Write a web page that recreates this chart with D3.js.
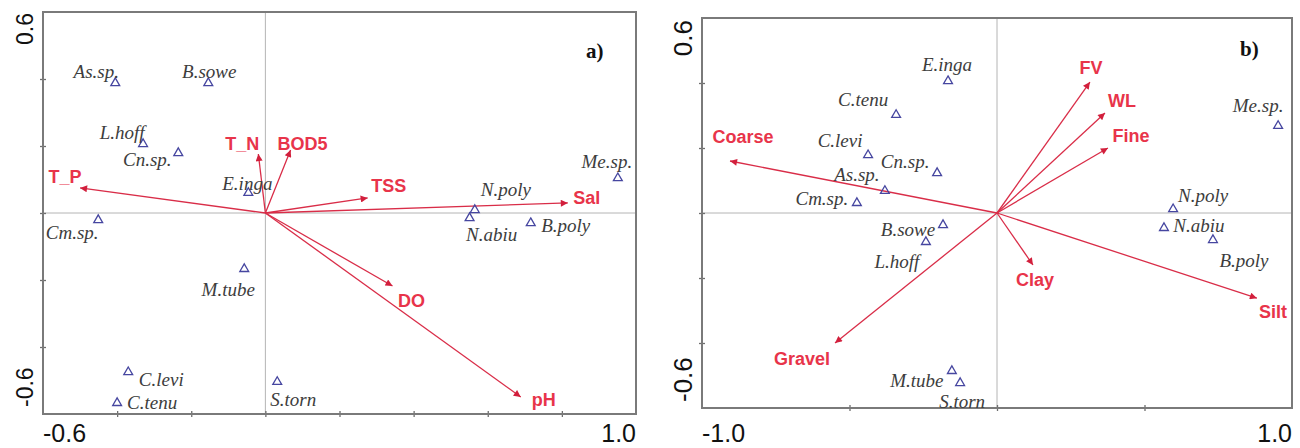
<!DOCTYPE html>
<html>
<head>
<meta charset="utf-8">
<script src="https://cdn.jsdelivr.net/npm/d3@7"></script>
<style>
  html, body { margin: 0; padding: 0; background: #fff; }
  svg { display: block; }
</style>
</head>
<body>
<svg id="chart" width="1300" height="448"></svg>
<script>
// ---------------- DATA ----------------
// Panel a) : species scores and environmental vectors
const speciesA = ["As.sp.", "B.sowe", "L.hoff", "Cn.sp.", "E.inga", "Cm.sp.", "M.tube", "C.levi", "C.tenu", "S.torn", "N.poly", "N.abiu", "B.poly", "Me.sp."];
const speciesAx = [-0.405, -0.154, -0.330, -0.235, -0.046, -0.451, -0.057, -0.370, -0.400, 0.032, 0.565, 0.551, 0.716, 0.951];
const speciesAy = [0.388, 0.388, 0.206, 0.179, 0.060, -0.021, -0.167, -0.475, -0.567, -0.504, 0.009, -0.015, -0.030, 0.104];

const envA = ["T_P", "T_N", "BOD5", "TSS", "Sal", "DO", "pH"];
const envAx = [-0.500, -0.019, 0.068, 0.276, 0.816, 0.343, 0.689];
const envAy = [0.075, 0.176, 0.188, 0.045, 0.030, -0.218, -0.549];

// Panel b)
const speciesB = ["E.inga", "C.tenu", "C.levi", "Cn.sp.", "As.sp.", "Cm.sp.", "B.sowe", "L.hoff", "M.tube", "S.torn", "N.poly", "N.abiu", "B.poly", "Me.sp."];
const speciesBx = [-0.166, -0.342, -0.437, -0.203, -0.380, -0.475, -0.183, -0.241, -0.153, -0.125, 0.597, 0.566, 0.732, 0.953];
const speciesBy = [0.406, 0.302, 0.178, 0.123, 0.068, 0.031, -0.037, -0.089, -0.486, -0.523, 0.012, -0.046, -0.083, 0.268];

const envB = ["Coarse", "FV", "WL", "Fine", "Clay", "Silt", "Gravel"];
const envBx = [-0.905, 0.315, 0.366, 0.376, 0.122, 0.881, -0.549];
const envBy = [0.160, 0.403, 0.308, 0.200, -0.160, -0.262, -0.400];

// Axis domains and tick values
const domainAx = [-0.6, 1.0], domainAy = [-0.6, 0.6];
const domainBx = [-1.0, 1.0], domainBy = [-0.6, 0.6];
const ticksAx = [-0.4, -0.2, 0, 0.2, 0.4, 0.6, 0.8];
const ticksAy = [-0.4, -0.2, 0, 0.2, 0.4];
const ticksBx = [-0.5, 0, 0.5];
const ticksBy = [-0.4, -0.2, 0, 0.2, 0.4];
const tickLabelsAx = ["-0.6", "1.0"], tickLabelsAy = ["-0.6", "0.6"];
const tickLabelsBx = ["-1.0", "1.0"], tickLabelsBy = ["-0.6", "0.6"];
const panelTitles = ["a)", "b)"];

// ---------------- LAYOUT (label offsets in px, not data) ----------------
const labelOffA = {
  "As.sp.": [-19, -11], "B.sowe": [1, -11], "L.hoff": [-21, -11], "Cn.sp.": [-31, 7],
  "E.inga": [-1, -9], "Cm.sp.": [-26, 13], "M.tube": [-16, 21], "C.levi": [33, 8],
  "C.tenu": [35, 0], "S.torn": [16, 18], "N.poly": [31, -20], "N.abiu": [22, 17],
  "B.poly": [35, 3], "Me.sp.": [-11, -16]
};
const envOffA = {
  "T_P": [-15, -11], "T_N": [-16, -11], "BOD5": [12, -7], "TSS": [21, -12],
  "Sal": [19, -5], "DO": [19, 14], "pH": [23, 3]
};
const labelOffB = {
  "E.inga": [-1, -16], "C.tenu": [-33, -15], "C.levi": [-28, -14], "Cn.sp.": [-32, -11],
  "As.sp.": [-28, -16], "Cm.sp.": [-35, -4], "B.sowe": [-35, 5], "L.hoff": [-29, 20],
  "M.tube": [-35, 10], "S.torn": [2, 19], "N.poly": [30, -13], "N.abiu": [35, -2],
  "B.poly": [31, 21], "Me.sp.": [-20, -20]
};
const envOffB = {
  "Coarse": [13, -24], "FV": [1, -15], "WL": [17, -12], "Fine": [23, -12],
  "Clay": [2, 15], "Silt": [16, 13], "Gravel": [-33, 16]
};

const svg = d3.select("#chart");
const defs = svg.append("defs");
defs.append("marker")
  .attr("id", "arrow")
  .attr("viewBox", "0 0 10 10")
  .attr("refX", 10).attr("refY", 5)
  .attr("markerUnits", "userSpaceOnUse")
  .attr("markerWidth", 10).attr("markerHeight", 7)
  .attr("orient", "auto")
  .append("path")
  .attr("d", "M0,0 L10,5 L0,10 Z")
  .attr("fill", "#d21f3c");

const ENV_COLOR = "#e8344a";
const LINE_COLOR = "#d92d48";
const SP_COLOR = "#3d3d3d";
const TRI_COLOR = "#4646a0";

function panel(cfg) {
  const x = d3.scaleLinear().domain(cfg.dx).range([cfg.left, cfg.right]);
  const y = d3.scaleLinear().domain(cfg.dy).range([cfg.bottom, cfg.top]);
  const g = svg.append("g");

  // zero lines
  g.append("line").attr("x1", x(0)).attr("x2", x(0)).attr("y1", cfg.top).attr("y2", cfg.bottom)
    .attr("stroke", "#b4b4b4").attr("stroke-width", 1);
  g.append("line").attr("x1", cfg.left).attr("x2", cfg.right).attr("y1", y(0)).attr("y2", y(0))
    .attr("stroke", "#b4b4b4").attr("stroke-width", 1);

  // ticks (crossing the frame)
  const ax = g.append("g").attr("transform", `translate(0,${cfg.bottom - 3})`)
    .call(d3.axisBottom(x).tickValues(cfg.tx).tickSize(6).tickFormat(""));
  const ay = g.append("g").attr("transform", `translate(${cfg.left + 3},0)`)
    .call(d3.axisLeft(y).tickValues(cfg.ty).tickSize(6).tickFormat(""));
  [ax, ay].forEach(a => {
    a.select(".domain").remove();
    a.selectAll(".tick line").attr("stroke", "#6e6e6e").attr("stroke-width", 1.3);
  });

  // frame
  g.append("rect").attr("x", cfg.left).attr("y", cfg.top)
    .attr("width", cfg.right - cfg.left).attr("height", cfg.bottom - cfg.top)
    .attr("fill", "none").attr("stroke", "#7a7a7a").attr("stroke-width", 2);

  // end tick labels
  const tl = g.append("g").attr("font-family", "'Liberation Sans', Arial, sans-serif").attr("fill", "#111");
  tl.append("text").attr("x", x(cfg.dx[0])).attr("y", 442).attr("font-size", 25)
    .attr("text-anchor", "start").text(cfg.lx[0]);
  tl.append("text").attr("x", x(cfg.dx[1])).attr("y", 442).attr("font-size", 25)
    .attr("text-anchor", "end").text(cfg.lx[1]);
  tl.append("text").attr("transform", `translate(${cfg.ylx},${y(cfg.dy[1]) + cfg.ytopPad}) rotate(-90)`)
    .attr("font-size", cfg.yfs).attr("text-anchor", "end").text(cfg.ly[1]);
  tl.append("text").attr("transform", `translate(${cfg.ylx},${y(cfg.dy[0]) - cfg.ybotPad}) rotate(-90)`)
    .attr("font-size", cfg.yfs).attr("text-anchor", "start").text(cfg.ly[0]);

  // panel title
  g.append("text").attr("x", cfg.titleX).attr("y", cfg.titleY)
    .attr("font-family", "'Liberation Serif', 'Times New Roman', serif")
    .attr("font-weight", "bold").attr("font-size", 21).attr("fill", "#111")
    .text(cfg.title);

  // environmental arrows
  const env = cfg.env.map((n, i) => ({ n, vx: cfg.ex[i], vy: cfg.ey[i] }));
  g.append("g").selectAll("line").data(env).join("line")
    .attr("x1", x(0)).attr("y1", y(0))
    .attr("x2", d => x(d.vx)).attr("y2", d => y(d.vy))
    .attr("stroke", LINE_COLOR).attr("stroke-width", 1.3)
    .attr("marker-end", "url(#arrow)");
  g.append("g").selectAll("text").data(env).join("text")
    .attr("x", d => x(d.vx) + cfg.eoff[d.n][0])
    .attr("y", d => y(d.vy) + cfg.eoff[d.n][1])
    .attr("dy", "0.36em")
    .attr("text-anchor", "middle")
    .attr("font-family", "'Liberation Sans', Arial, sans-serif")
    .attr("font-weight", "bold").attr("font-size", 18)
    .attr("fill", ENV_COLOR)
    .text(d => d.n);

  // species
  const sp = cfg.sp.map((n, i) => ({ n, vx: cfg.sx[i], vy: cfg.sy[i] }));
  g.append("g").selectAll("path").data(sp).join("path")
    .attr("transform", d => `translate(${x(d.vx)},${y(d.vy)})`)
    .attr("d", d3.symbol(d3.symbolTriangle, 34))
    .attr("fill", "none").attr("stroke", TRI_COLOR).attr("stroke-width", 1.3);
  g.append("g").selectAll("text").data(sp).join("text")
    .attr("x", d => x(d.vx) + cfg.soff[d.n][0])
    .attr("y", d => y(d.vy) + cfg.soff[d.n][1])
    .attr("dy", "0.33em")
    .attr("text-anchor", "middle")
    .attr("font-family", "'Liberation Serif', 'Times New Roman', serif")
    .attr("font-style", "italic").attr("font-size", 19)
    .attr("fill", SP_COLOR)
    .text(d => d.n);
}

panel({
  left: 43, right: 636, top: 12, bottom: 414,
  dx: domainAx, dy: domainAy, tx: ticksAx, ty: ticksAy,
  lx: tickLabelsAx, ly: tickLabelsAy, ylx: 33, yfs: 23, ytopPad: 1, ybotPad: 7,
  title: panelTitles[0], titleX: 586, titleY: 58,
  env: envA, ex: envAx, ey: envAy, eoff: envOffA,
  sp: speciesA, sx: speciesAx, sy: speciesAy, soff: labelOffA
});

panel({
  left: 702, right: 1292, top: 18, bottom: 408,
  dx: domainBx, dy: domainBy, tx: ticksBx, ty: ticksBy,
  lx: tickLabelsBx, ly: tickLabelsBy, ylx: 692, yfs: 26, ytopPad: 2, ybotPad: 6,
  title: panelTitles[1], titleX: 1240, titleY: 56,
  env: envB, ex: envBx, ey: envBy, eoff: envOffB,
  sp: speciesB, sx: speciesBx, sy: speciesBy, soff: labelOffB
});
</script>
</body>
</html>
